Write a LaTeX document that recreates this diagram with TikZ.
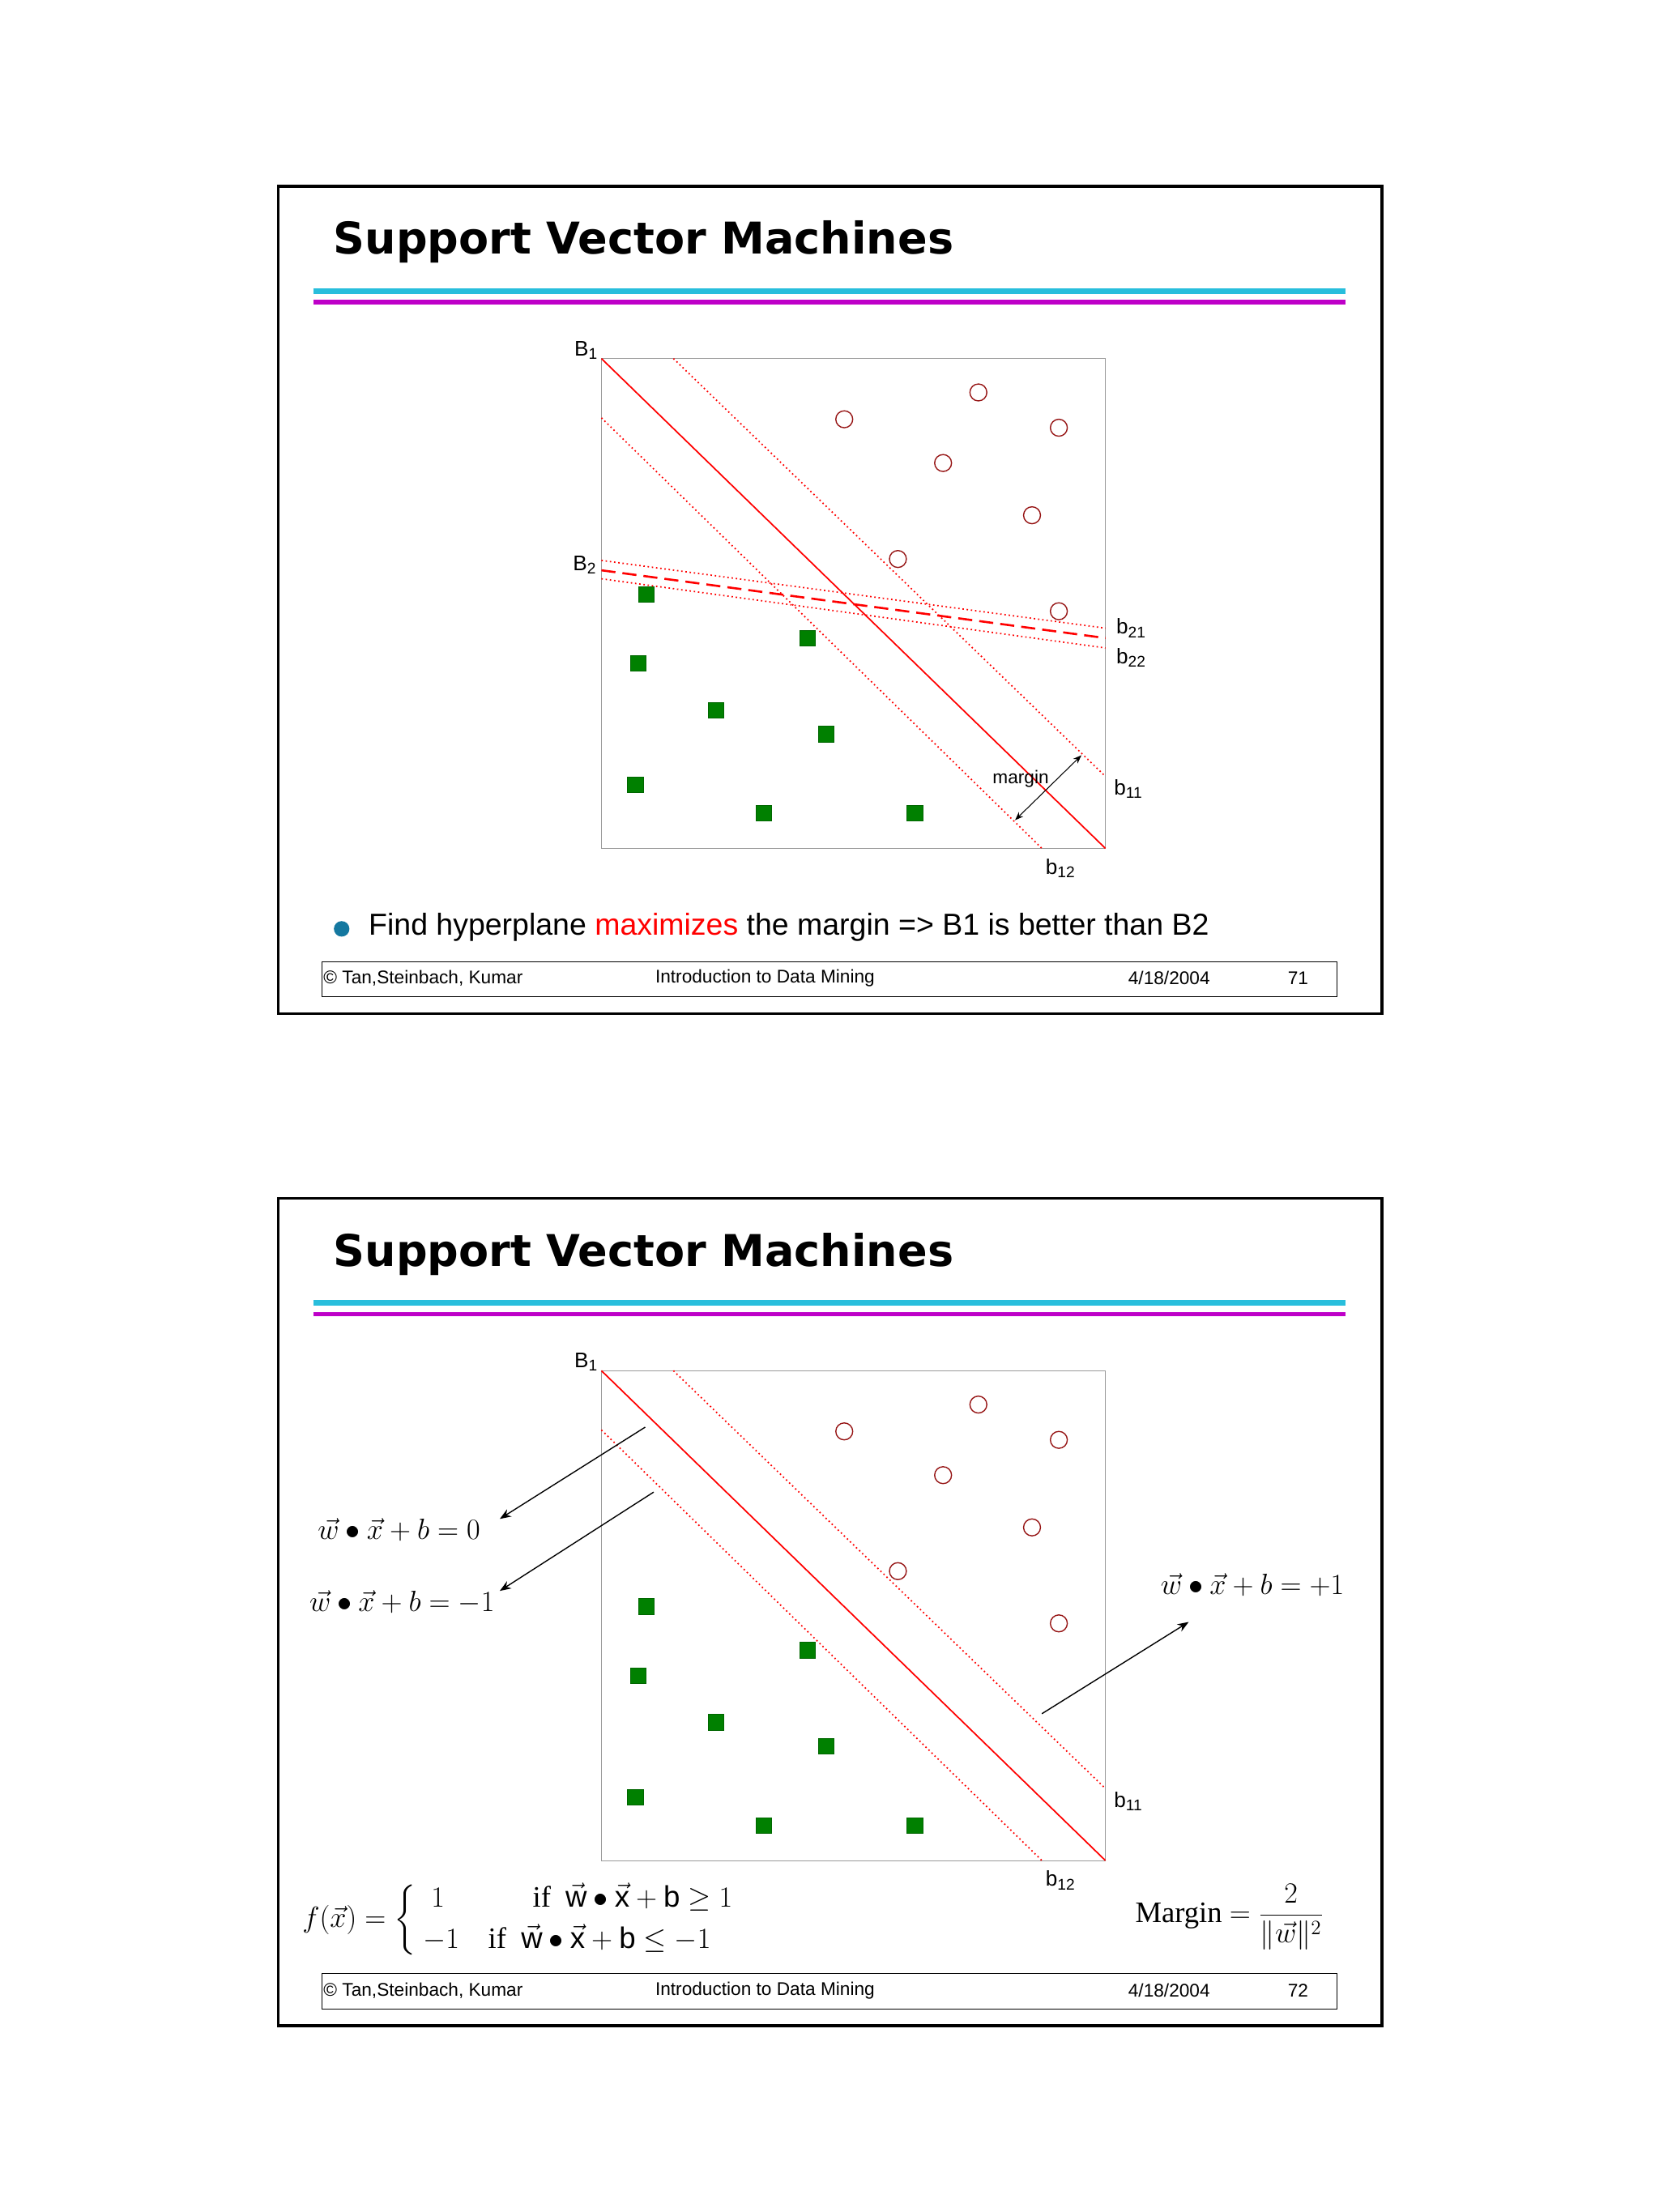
\documentclass[tikz,border=0pt]{standalone}
\usepackage{amsmath}
\usepackage{fontspec}
\setmainfont{Liberation Sans}
\newfontfamily\titlefont{DejaVu Sans}
\newfontfamily\serifm{Liberation Serif}
\usetikzlibrary{arrows.meta}
\definecolor{sqgreen}{RGB}{0,128,0}
\definecolor{circred}{RGB}{150,20,20}
\definecolor{cyanl}{RGB}{40,190,220}
\definecolor{magl}{RGB}{190,0,200}
\definecolor{bullet}{RGB}{20,120,160}
\tikzset{
 frame/.style={draw=black,line width=2pt},
 circ/.style={draw=circred,line width=0.8pt,circle,minimum size=12pt,inner sep=0pt},
 sq/.style={draw=black!60!green,fill=sqgreen,minimum size=11pt,inner sep=0pt},
 dotl/.style={red,dotted,line width=1pt},
 lab/.style={font=\fontsize{15}{15}\selectfont,inner sep=0pt},
 foot/.style={font=\fontsize{13}{13}\selectfont,anchor=west,inner sep=0pt},
 eq/.style={font=\fontsize{20}{20}\selectfont,inner sep=0pt,anchor=west},
 arr/.style={-{Stealth[length=8pt]},line width=0.8pt}
}
\newcommand{\sub}[1]{\raisebox{-0.3ex}{\fontsize{11}{11}\selectfont #1}}
\newcommand{\slide}[2]{%
 \begin{scope}[yshift=-#1pt]
 \draw[frame] (197,132) rectangle (979,718);
 \node[anchor=base west,inner sep=0pt,font=\titlefont\bfseries\fontsize{31}{31}\selectfont] at (236,180) {Support Vector Machines};
 \draw[cyanl,line width=4pt] (222,206) -- (953,206);
 \draw[magl,line width=3pt] (222,214) -- (953,214);
 \draw[black!40] (426,254) rectangle (783,601);
 \draw[red,line width=1pt] (426,254) -- (783,601);
 \draw[dotl] (477,254) -- (783,550);
 \draw[dotl] (426,296) -- (738,601);
 \foreach \x/\y [count=\i] in {598/297,693/278,750/303,668/328,731/365,636/396,750/433}
   \node[circ] (c#2\i) at (\x,\y) {};
 \foreach \x/\y [count=\i] in {458/421,572/452,452/470,507/503,585/520,450/556,541/576,648/576}
   \node[sq] (s#2\i) at (\x,\y) {};
 \node[lab] (B1#2) at (415,248) {B\sub{1}};
 \node[lab] (b11#2) at (799,559) {b\sub{11}};
 \node[lab] (b12#2) at (751,615) {b\sub{12}};
 \draw (228,681) rectangle (947,706);
 \node[foot] at (229,693) {\textcopyright\ Tan,Steinbach, Kumar};
 \node[foot] at (464,693) {Introduction to Data Mining};
 \node[foot] at (799,693) {4/18/2004};
 \end{scope}}
\begin{document}
\begin{tikzpicture}[x=1pt,y=-1pt]
\fill[white] (0,0) rectangle (1175,1567);
\useasboundingbox (0,0) rectangle (1175,1567);
\slide{0}{a}
\slide{717}{b}
% slide 1 extras
\node[foot] at (912,693) {71};
\draw[red,dashed,dash pattern=on 10pt off 5pt,line width=1.5pt] (426,404) -- (783,452);
\draw[dotl] (426,397) -- (783,445);
\draw[dotl] (426,410) -- (783,459);
\node[lab] (B2) at (414,400) {B\sub{2}};
\node[lab] (b21) at (801,445) {b\sub{21}};
\node[lab] (b22) at (801,466) {b\sub{22}};
\coordinate (m1) at (719,581);
\coordinate (m2) at (766,535);
\draw[{Stealth[length=6pt]}-{Stealth[length=6pt]},line width=0.6pt] (m1) -- (m2);
\node[lab,font=\fontsize{13}{13}\selectfont] (mg) at (723,552) {margin};
\fill[bullet] (242,658) circle (5.5);
\node[anchor=west,inner sep=0pt,font=\fontsize{21.5}{21.5}\selectfont] (txt) at (261,657) {Find hyperplane \textcolor{red}{maximizes} the margin => B1 is better than B2};
% slide 2 extras
\node[foot] at (912,1410) {72};
\node[eq] (e0) at (225,1084) {$\vec w\bullet\vec x+b=0$};
\node[eq] (e1) at (219,1135) {$\vec w\bullet\vec x+b=-1$};
\node[eq] (e2) at (822,1123) {$\vec w\bullet\vec x+b=+1$};
\coordinate (p0) at (457,1011);
\coordinate (p1) at (463,1057);
\coordinate (p2) at (738,1214);
\draw[arr] (p0) -- (354,1076);
\draw[arr] (p1) -- (354,1127);
\draw[arr] (p2) -- (842,1149);
\node[anchor=west,inner sep=0pt,font=\fontsize{21}{21}\selectfont] (fx) at (214,1360)
 {$f(\vec x)=\left\{\begin{array}{ll}\;1 & \text{\serifm\qquad if\ \ } \vec{\mathrm w}\bullet\vec{\mathrm x}+\mathrm b\geq 1\\[6pt] -1 & \text{\serifm\ \ if\ \ } \vec{\mathrm w}\bullet\vec{\mathrm x}+\mathrm b\leq -1\end{array}\right.$};
\node[anchor=west,inner sep=0pt,font=\fontsize{21}{21}\selectfont] (mf) at (804,1358)
 {\serifm Margin $=\dfrac{2}{\|\vec w\|^2}$};
\end{tikzpicture}
\end{document}
